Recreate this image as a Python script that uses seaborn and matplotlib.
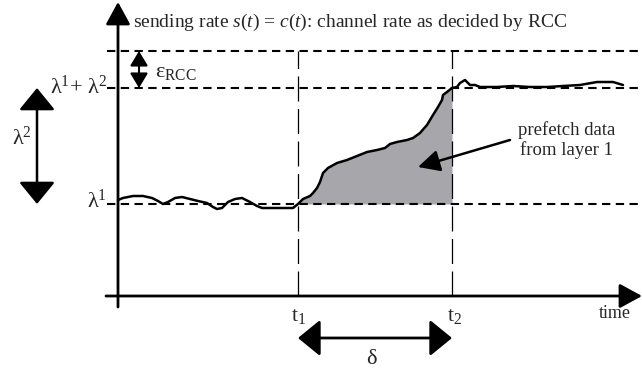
import numpy as np
import matplotlib
matplotlib.use("Agg")
import matplotlib.pyplot as plt
import seaborn as sns

# ---- data (time units, rate units) ----
curve_t = [0, 5, 15, 25, 34, 40, 45, 50, 57, 64, 72, 80, 89, 95, 99, 104, 110, 117, 124, 132,
           139, 144, 159, 175, 180, 185, 192, 195, 199, 202, 205, 210, 219, 229, 239, 249, 259,
           267, 272, 279, 289, 295, 302, 309, 315, 320, 324, 325, 329, 334, 339, 342, 347, 352,
           357, 362, 379, 395, 412, 429, 445, 462, 479, 495, 505]
curve_rate = [96, 98, 100, 100, 98, 95, 92, 94, 98, 99, 97, 95, 93, 89, 87, 88, 94, 97, 98, 94,
              90, 88, 88, 88, 92, 97, 100, 103, 108, 114, 123, 128, 133, 136, 140, 144, 146,
              148, 152, 154, 156, 158, 163, 171, 181, 189, 196, 201, 204, 208, 209, 213, 216, 211,
              211, 209, 209, 210, 209, 209, 210, 211, 214, 214, 211]
lambda1 = 92          # rate of layer 1
lambda12 = 208        # lambda1 + lambda2
eps_top = 245         # lambda1 + lambda2 + eps_RCC
t1 = 180
t2 = 334

sns.set_style("white")
plt.rcParams["font.family"] = ["Liberation Serif", "DejaVu Serif"]
plt.rcParams["mathtext.fontset"] = "custom"
plt.rcParams["mathtext.rm"] = "Liberation Serif"
plt.rcParams["mathtext.it"] = "Liberation Serif:italic"
plt.rcParams["mathtext.bf"] = "Liberation Serif:bold"

fig = plt.figure(figsize=(6.42, 3.76), dpi=100)
ax = fig.add_axes([0, 0, 1, 1])
ax.set_xlim(-118, 524)
ax.set_ylim(-80, 296)
ax.axis("off")

ct = np.array(curve_t, dtype=float)
cr = np.array(curve_rate, dtype=float)

# shaded prefetch area
mask = (ct >= t1) & (ct <= t2)
ax.fill_between(ct[mask], lambda1, cr[mask], color="#a7a7ab", lw=0, zorder=1)

# horizontal dashed levels
for lv in (lambda1, lambda12, eps_top):
    ax.plot([-11, 524], [lv, lv], color="k", lw=1.5, ls=(0, (4, 2.6)), zorder=2)

# vertical dashed lines at t1, t2
for tv in (t1, t2):
    ax.plot([tv, tv], [0, eps_top], color="k", lw=0.9, ls=(0, (20, 6)), zorder=2)

# curve
sns.lineplot(x=ct, y=cr, ax=ax, color="k", lw=1.8, sort=False, zorder=3)

# axes with arrows
ax.annotate("", xy=(0, 294), xytext=(0, -11),
            arrowprops=dict(arrowstyle="-|>,head_length=0.55,head_width=0.3",
                            mutation_scale=25, lw=2, color="k", shrinkA=0, shrinkB=0))
ax.annotate("", xy=(524, 0), xytext=(-12, 0),
            arrowprops=dict(arrowstyle="-|>,head_length=0.55,head_width=0.3",
                            mutation_scale=25, lw=2, color="k", shrinkA=0, shrinkB=0))

# lambda2 double arrow
ax.annotate("", xy=(-81, lambda12), xytext=(-81, lambda1),
            arrowprops=dict(arrowstyle="<|-|>,head_length=0.55,head_width=0.45",
                            mutation_scale=25, lw=1.8, color="k", shrinkA=0, shrinkB=0))
# eps double arrow
ax.annotate("", xy=(21, eps_top), xytext=(21, lambda12),
            arrowprops=dict(arrowstyle="<|-|>,head_length=0.5,head_width=0.3",
                            mutation_scale=18, lw=1.5, color="k", shrinkA=0, shrinkB=0))
# delta double arrow
ax.annotate("", xy=(t2, -42), xytext=(t1, -42),
            arrowprops=dict(arrowstyle="<|-|>,head_length=0.55,head_width=0.45",
                            mutation_scale=25, lw=2, color="k", shrinkA=0, shrinkB=0))
# prefetch arrow
ax.annotate("", xy=(300, 129), xytext=(392, 156),
            arrowprops=dict(arrowstyle="-|>,head_length=0.6,head_width=0.3",
                            mutation_scale=22, lw=1.8, color="k", shrinkA=0, shrinkB=0))

# texts
ax.text(15, 274, r"sending rate $\mathit{s(t)}$ = $\mathit{c(t)}$: channel rate as decided by RCC",
        fontsize=14, va="center", ha="left")
ax.text(-11, 209, r"$\mathrm{λ}^1$+ $\mathrm{λ}^2$", fontsize=16, va="center", ha="right")
ax.text(-11, 95, r"$\mathrm{λ}^1$", fontsize=16, va="center", ha="right")
ax.text(-96, 158, r"$\mathrm{λ}^2$", fontsize=16, va="center", ha="center")
ax.text(37, 224, r"$\mathrm{ε}_{\mathrm{RCC}}$", fontsize=16, va="center", ha="left")
ax.text(449, 156, "prefetch data\nfrom layer 1", fontsize=13.5, va="center", ha="center",
        linespacing=1.1)
ax.text(497, -17, "time", fontsize=13, va="center", ha="center")
ax.text(181, -21, r"$\mathrm{t}_1$", fontsize=16, va="center", ha="center")
ax.text(337, -21, r"$\mathrm{t}_2$", fontsize=16, va="center", ha="center")
ax.text(254, -64, r"$\mathrm{δ}$", fontsize=16, va="center", ha="center")

fig.savefig("out.png", dpi=100)
